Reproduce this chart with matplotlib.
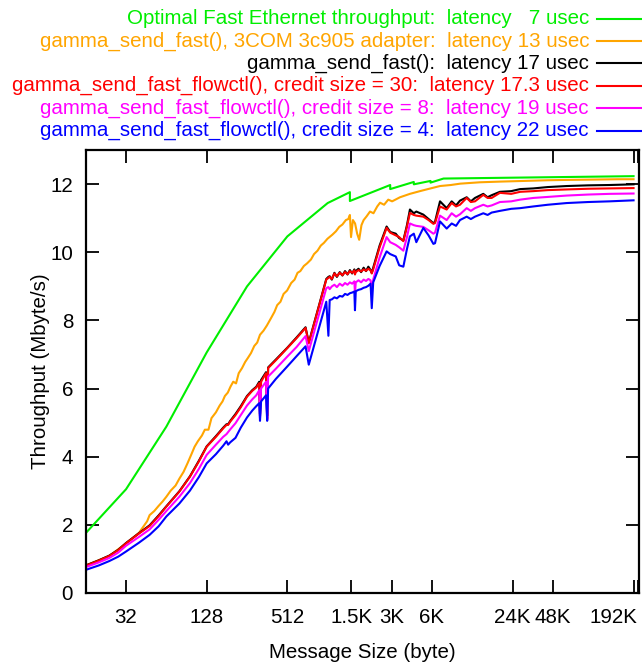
import numpy as np
import matplotlib
matplotlib.use('Agg')
import matplotlib.pyplot as plt
import matplotlib.transforms as mtransforms
from matplotlib.lines import Line2D

plt.rcParams['font.family'] = ['Liberation Sans', 'DejaVu Sans']

# Optimal Fast Ethernet throughput (latency 7 usec)
x_opt = [16, 32, 64, 128, 256, 512, 1024, 1500, 1500, 3000, 3000, 4500, 4500,
         6000, 6000, 7500, 196608]
y_opt = [1.75, 3.04, 4.88, 7.06, 9.0, 10.47, 11.45, 11.77, 11.51, 11.98, 11.86,
         12.07, 12.0, 12.1, 12.05, 12.17, 12.24]

# gamma_send_fast(), 3COM 3c905 adapter
x_3com = [16, 24, 32, 40, 46, 48, 52, 56, 60, 64, 69, 75, 80, 86, 92, 98, 104, 110,
          118, 124, 132, 139, 150, 160, 168, 175, 184, 193, 202, 212, 222, 235, 248,
          260, 274, 290, 305, 320, 340, 360, 387, 410, 430, 455, 480, 510, 547, 580,
          610, 640, 680, 720, 768, 810, 860, 910, 960, 1020, 1110, 1180, 1250, 1320,
          1400, 1460, 1500, 1530, 1580, 1640, 1700, 1760, 1830, 1900, 2000, 2120,
          2250, 2400, 2520, 2700, 2900, 3100, 3550, 4210, 5000, 6000, 7060, 8500,
          10000, 14000, 19800, 30000, 45000, 62500, 100000, 150000, 196608]
y_3com = [0.80, 1.08, 1.45, 1.76, 2.10, 2.28, 2.40, 2.55, 2.68, 2.82, 3.00, 3.15,
          3.35, 3.55, 3.80, 4.05, 4.29, 4.45, 4.62, 4.79, 4.79, 5.13, 5.30, 5.50,
          5.62, 5.78, 5.88, 6.06, 6.20, 6.15, 6.45, 6.60, 6.78, 6.90, 7.04, 7.25,
          7.35, 7.58, 7.70, 7.85, 8.07, 8.25, 8.45, 8.55, 8.78, 8.88, 9.10, 9.20,
          9.40, 9.45, 9.60, 9.68, 9.79, 9.95, 10.05, 10.20, 10.28, 10.40, 10.52,
          10.62, 10.75, 10.82, 10.95, 10.98, 11.10, 10.45, 10.95, 10.85, 10.55,
          10.37, 10.80, 10.95, 11.06, 11.20, 11.15, 11.35, 11.46, 11.40, 11.55,
          11.50, 11.62, 11.72, 11.80, 11.88, 11.95, 11.98, 12.02, 12.06, 12.08,
          12.10, 12.12, 12.13, 12.14, 12.15, 12.15]

# message sizes shared by the four gamma_send_fast / flowctl measurements
x_meas = [16, 20, 24, 28, 32, 40, 48, 56, 64, 80, 96, 112, 128, 150, 170, 180, 185,
          192, 210, 230, 256, 280, 300, 316, 320, 326, 355, 362, 368, 420, 512, 600,
          700, 740, 1000, 1037, 1060, 1100, 1150, 1200, 1260, 1320, 1380, 1440, 1500,
          1560, 1620, 1637, 1660, 1740, 1820, 1900, 1980, 2060, 2140, 2185, 2240,
          2500, 2820, 3000, 3300, 3500, 3760, 4000, 4210, 4500, 4700, 5300, 5800,
          6300, 6480, 7060, 7920, 8630, 9300, 9950, 11170, 12000, 12880, 14860,
          16000, 17150, 19770, 24000, 28000, 35100, 45000, 62300, 90000, 130000,
          196608]

y_fast = [0.80, 0.95, 1.09, 1.26, 1.46, 1.75, 1.98, 2.27, 2.54, 2.98, 3.42, 3.88,
          4.30, 4.60, 4.85, 4.95, 4.95, 5.05, 5.25, 5.48, 5.78, 5.95, 6.05, 6.20,
          5.25, 6.25, 6.48, 5.20, 6.62, 6.85, 7.20, 7.50, 7.80, 7.35, 9.22, 9.28,
          9.30, 9.20, 9.40, 9.28, 9.42, 9.32, 9.45, 9.35, 9.48, 9.38, 9.50, 9.40,
          9.45, 9.52, 9.42, 9.55, 9.45, 9.58, 9.48, 9.40, 9.55, 10.20, 10.76, 10.60,
          10.55, 10.42, 10.35, 10.80, 11.26, 11.15, 11.20, 11.11, 10.98, 10.86,
          10.90, 11.50, 11.30, 11.50, 11.38, 11.52, 11.62, 11.50, 11.60, 11.72,
          11.62, 11.68, 11.78, 11.80, 11.86, 11.88, 11.92, 11.95, 11.97, 11.98,
          12.00]

y_cs30 = [0.79, 0.94, 1.08, 1.25, 1.45, 1.74, 1.96, 2.25, 2.53, 2.97, 3.41, 3.86,
          4.29, 4.58, 4.83, 4.93, 4.93, 5.03, 5.22, 5.45, 5.76, 5.93, 6.03, 6.16,
          5.20, 6.20, 6.45, 5.12, 6.60, 6.83, 7.19, 7.48, 7.78, 7.33, 9.20, 9.25,
          9.28, 9.22, 9.38, 9.30, 9.40, 9.33, 9.42, 9.36, 9.45, 9.40, 9.47, 9.35,
          9.42, 9.48, 9.44, 9.50, 9.46, 9.52, 9.47, 9.38, 9.50, 10.15, 10.72, 10.58,
          10.50, 10.45, 10.33, 10.75, 11.16, 11.10, 11.08, 11.05, 10.95, 10.84,
          10.86, 11.35, 11.26, 11.45, 11.35, 11.40, 11.60, 11.48, 11.50, 11.69,
          11.60, 11.60, 11.75, 11.72, 11.78, 11.80, 11.83, 11.85, 11.87, 11.88,
          11.89]

y_cs8 = [0.75, 0.89, 1.02, 1.18, 1.38, 1.64, 1.86, 2.14, 2.40, 2.82, 3.22, 3.64,
         4.05, 4.35, 4.58, 4.66, 4.72, 4.80, 4.98, 5.22, 5.50, 5.68, 5.80, 5.95,
         5.15, 6.00, 6.20, 5.08, 6.35, 6.58, 6.94, 7.22, 7.54, 7.10, 8.95, 8.98,
         8.92, 9.00, 9.05, 8.98, 9.08, 9.02, 9.10, 9.05, 9.12, 9.08, 9.15, 8.80,
         9.12, 9.18, 9.12, 9.20, 9.16, 9.22, 9.18, 8.90, 9.20, 9.85, 10.45, 10.30,
         10.22, 10.15, 10.05, 10.45, 10.85, 10.80, 10.78, 10.75, 10.65, 10.55,
         10.58, 11.08, 10.95, 11.15, 11.05, 11.12, 11.30, 11.22, 11.30, 11.40,
         11.35, 11.38, 11.48, 11.50, 11.55, 11.60, 11.63, 11.67, 11.70, 11.72,
         11.73]

y_cs4 = [0.67, 0.80, 0.93, 1.06, 1.21, 1.47, 1.70, 1.95, 2.24, 2.62, 3.00, 3.40,
         3.80, 4.07, 4.32, 4.45, 4.35, 4.42, 4.55, 4.85, 5.15, 5.35, 5.48, 5.57,
         5.05, 5.62, 5.80, 5.05, 6.00, 6.28, 6.65, 6.95, 7.24, 6.70, 8.55, 7.55,
         8.60, 8.62, 8.68, 8.65, 8.72, 8.70, 8.78, 8.75, 8.80, 8.82, 8.85, 8.30,
         8.86, 8.90, 8.92, 8.96, 8.98, 9.02, 9.08, 8.36, 9.12, 9.60, 10.03, 9.95,
         9.88, 9.62, 9.58, 10.10, 10.47, 10.55, 10.30, 10.72, 10.50, 10.25, 10.27,
         10.91, 10.70, 10.85, 10.78, 10.95, 11.05, 10.98, 11.05, 11.15, 11.10,
         11.17, 11.22, 11.28, 11.30, 11.35, 11.40, 11.45, 11.48, 11.50, 11.53]

series = [
    (x_opt, y_opt, '#00ee00', 'Optimal Fast Ethernet throughput:  latency   7 usec'),
    (x_3com, y_3com, '#ffa500', 'gamma_send_fast(), 3COM 3c905 adapter:  latency 13 usec'),
    (x_meas, y_fast, '#000000', 'gamma_send_fast():  latency 17 usec'),
    (x_meas, y_cs30, '#ff0000', 'gamma_send_fast_flowctl(), credit size = 30:  latency 17.3 usec'),
    (x_meas, y_cs8, '#ff00ff', 'gamma_send_fast_flowctl(), credit size = 8:  latency 19 usec'),
    (x_meas, y_cs4, '#0000ff', 'gamma_send_fast_flowctl(), credit size = 4:  latency 22 usec'),
]

FS = 14.8
W, H = 642, 666
fig = plt.figure(figsize=(W / 100, H / 100), dpi=100)
ax = fig.add_axes([85.7 / W, 1 - 592.7 / H, (639.3 - 85.7) / W, (592.7 - 150.3) / H])

for xs, ys, col, lab in series:
    ax.plot(xs, ys, color=col, lw=1.5)

ax.set_xscale('log', base=2)
ax.set_xlim(16, 217000)
ax.set_ylim(0, 13)

xt = [32, 128, 512, 1536, 3072, 6144, 24576, 49152, 196608]
xt_labels = ['32', '128', '512', '1.5K', '3K', '6K', '24K', '48K', '192K']
ax.set_xticks(xt)
ax.set_xticklabels(xt_labels)
ax.set_xticks([211000], minor=True)
ax.set_yticks(np.arange(0, 13, 2))

ax.tick_params(which='both', direction='in', top=True, right=True, length=9.5,
               width=1.3, labelsize=FS, colors='black')
ax.tick_params(axis='x', which='major', pad=11)
ax.tick_params(axis='y', pad=9)
for s in ax.spines.values():
    s.set_linewidth(1.6)

# last label sits left of its tick so it stays inside the picture
last = ax.get_xticklabels()[-1]
last.set_ha('right')
last.set_transform(last.get_transform() +
                   mtransforms.ScaledTranslation(4 / 100, 0, fig.dpi_scale_trans))

ax.set_xlabel('Message Size (byte)', fontsize=FS)
ax.set_ylabel('Throughput (Mbyte/s)', fontsize=FS)
ax.xaxis.set_label_coords(0.5, -(652 - 592.7) / (592.7 - 150.3))
ax.xaxis.label.set_va('center')
ax.yaxis.set_label_coords(-(85.7 - 40) / (639.3 - 85.7), 0.5)
ax.yaxis.label.set_va('center')

# key in the top right corner, text in the colour of its line
for i, (xs, ys, col, lab) in enumerate(series):
    yp = 1 - (18.5 + 22.4 * i) / H
    fig.text(589 / W, yp, lab, color=col, fontsize=FS, ha='right', va='center')
    fig.add_artist(Line2D([597 / W, 641 / W], [yp, yp], color=col, lw=1.5,
                          transform=fig.transFigure))

fig.savefig('out.png', dpi=100)
